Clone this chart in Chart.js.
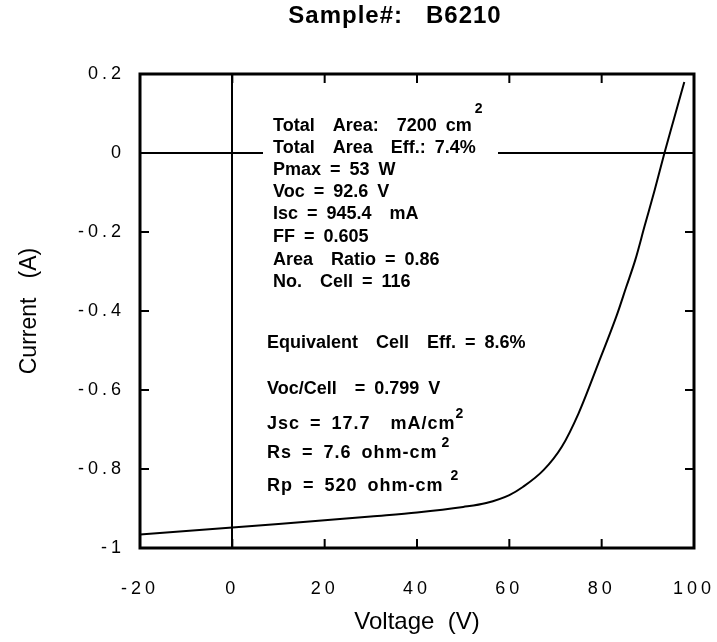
<!DOCTYPE html>
<html>
<head>
<meta charset="utf-8">
<script src="https://cdn.jsdelivr.net/npm/chart.js@4"></script>
<style>
  html, body { margin: 0; padding: 0; background: #fff; }
  canvas { display: block; }
</style>
</head>
<body>
<canvas id="iv" width="717" height="642"></canvas>
<script>
// I-V curve
const voltage = [-20, -10, 0, 10, 20, 30, 40, 50, 55, 60, 63, 67.4, 71.4, 75, 79.3, 83.3, 85.3, 87.3, 89.3, 91.5, 93.6, 95.7, 97.9];
const current = [-0.966, -0.957, -0.948, -0.939, -0.930, -0.920, -0.910, -0.896, -0.886, -0.866, -0.845, -0.803, -0.743, -0.659, -0.532, -0.41, -0.34, -0.27, -0.185, -0.093, 0, 0.088, 0.18];
const xTicks = [-20, 0, 20, 40, 60, 80, 100];
const yTicks = [0.2, 0, -0.2, -0.4, -0.6, -0.8, -1];

const sampleTitle = 'Sample#:   B6210';
// [text, superscript, letter spacing]
const summary = [
  ['Total  Area:  7200 cm', '2'],
  ['Total  Area  Eff.: 7.4%'],
  ['Pmax = 53 W'],
  ['Voc = 92.6 V'],
  ['Isc = 945.4  mA'],
  ['FF = 0.605'],
  ['Area  Ratio = 0.86'],
  ['No.  Cell = 116']
];
const cellNotes = [
  ['Equivalent  Cell  Eff. = 8.6%'],
  ['Voc/Cell  = 0.799 V'],
  ['Jsc = 17.7  mA/cm', '2', '1px'],
  ['Rs = 7.6 ohm-cm', '2', '1px'],
  ['Rp = 520 ohm-cm', '2', '1px']
];

const FONT = "'Liberation Sans', Arial, sans-serif";
const points = voltage.map((v, i) => ({ x: v, y: current[i] }));

function labelFor(list, v) {
  const hit = list.find(t => Math.abs(t - v) < 1e-6);
  return hit === undefined ? '' : String(hit);
}

const decor = {
  id: 'decor',
  beforeDraw(chart) {
    chart.ctx.letterSpacing = '0px';
  },
  afterDatasetsDraw(chart) {
    // tick labels are drawn after this (ticks.z = 1); space them out like the original
    chart.ctx.letterSpacing = '4px';
  },
  afterDraw(chart) {
    const ctx = chart.ctx;
    const a = chart.chartArea;
    const sx = chart.scales.x, sy = chart.scales.y;
    ctx.save();
    ctx.letterSpacing = '0px';

    // frame
    ctx.strokeStyle = '#000';
    ctx.lineWidth = 3;
    ctx.strokeRect(a.left, a.top, a.right - a.left, a.bottom - a.top);

    // inward ticks on all four sides
    ctx.lineWidth = 2;
    ctx.beginPath();
    xTicks.slice(1, -1).forEach(v => {
      const px = sx.getPixelForValue(v);
      ctx.moveTo(px, a.bottom); ctx.lineTo(px, a.bottom - 9);
      ctx.moveTo(px, a.top); ctx.lineTo(px, a.top + 9);
    });
    yTicks.slice(1, -1).forEach(v => {
      const py = sy.getPixelForValue(v);
      ctx.moveTo(a.left, py); ctx.lineTo(a.left + 9, py);
      ctx.moveTo(a.right, py); ctx.lineTo(a.right - 9, py);
    });
    ctx.stroke();

    // title
    ctx.fillStyle = '#000';
    ctx.letterSpacing = '1px';
    ctx.font = 'bold 24px ' + FONT;
    ctx.textAlign = 'center';
    ctx.textBaseline = 'middle';
    ctx.fillText(sampleTitle, 395, 16);

    // white gap in the zero line behind the text block
    ctx.fillStyle = '#fff';
    ctx.fillRect(263, sy.getPixelForValue(0) - 3, 235, 6);

    ctx.textAlign = 'left';
    ctx.wordSpacing = '4px';
    const drawLine = (item, x, y, supDx, supDy) => {
      ctx.fillStyle = '#000';
      ctx.letterSpacing = item[2] || '0px';
      ctx.font = 'bold 18px ' + FONT;
      ctx.fillText(item[0], x, y);
      if (item[1]) {
        const w = ctx.measureText(item[0]).width;
        ctx.font = 'bold 14px ' + FONT;
        ctx.fillText(item[1], x + w + supDx, y + supDy);
      }
    };
    const sumY = [126, 148, 170, 192, 214, 237, 260, 282];
    summary.forEach((item, i) => drawLine(item, 273, sumY[i], 3, -17));
    const noteY = [343, 389, 424, 453, 486];
    const noteDx = [0, 0, 0, 4, 7];
    cellNotes.forEach((item, i) => drawLine(item, 267, noteY[i], noteDx[i], -10));
    ctx.restore();
  }
};

new Chart(document.getElementById('iv'), {
  type: 'line',
  data: {
    datasets: [{
      data: points,
      borderColor: '#000',
      borderWidth: 2,
      pointRadius: 0,
      cubicInterpolationMode: 'monotone',
      fill: false
    }]
  },
  options: {
    responsive: false,
    animation: false,
    layout: { padding: { top: 74, right: 23, bottom: 0, left: 0 } },
    plugins: {
      legend: { display: false },
      tooltip: { enabled: false }
    },
    scales: {
      x: {
        type: 'linear',
        min: -20,
        max: 100,
        afterFit: s => { s.height = 94; s.paddingLeft = 0; s.paddingRight = 0; },
        afterBuildTicks: s => { s.ticks = xTicks.map(v => ({ value: v })); },
        ticks: {
          z: 1,
          color: '#000',
          padding: 30,
          maxRotation: 0,
          font: { family: FONT, size: 18 },
          callback: v => labelFor(xTicks, v)
        },
        grid: {
          drawTicks: false,
          lineWidth: 2,
          color: c => (c.tick && c.tick.value === 0 ? '#000' : 'rgba(0,0,0,0)')
        },
        border: { display: false },
        title: {
          display: true,
          text: 'Voltage  (V)',
          color: '#000',
          font: { family: FONT, size: 24 },
          padding: { top: 0, bottom: 5 }
        }
      },
      y: {
        min: -1,
        max: 0.2,
        afterFit: s => { s.width = 140; },
        afterBuildTicks: s => { s.ticks = yTicks.map(v => ({ value: v })); },
        ticks: {
          z: 1,
          color: '#000',
          padding: 15,
          font: { family: FONT, size: 18 },
          callback: v => labelFor(yTicks, v)
        },
        grid: {
          drawTicks: false,
          lineWidth: 2,
          color: c => (c.tick && Math.abs(c.tick.value) < 1e-9 ? '#000' : 'rgba(0,0,0,0)')
        },
        border: { display: false },
        title: {
          display: true,
          text: 'Current   (A)',
          color: '#000',
          font: { family: FONT, size: 23 },
          padding: { top: 16, bottom: 0 }
        }
      }
    }
  },
  plugins: [decor]
});
</script>
</body>
</html>
